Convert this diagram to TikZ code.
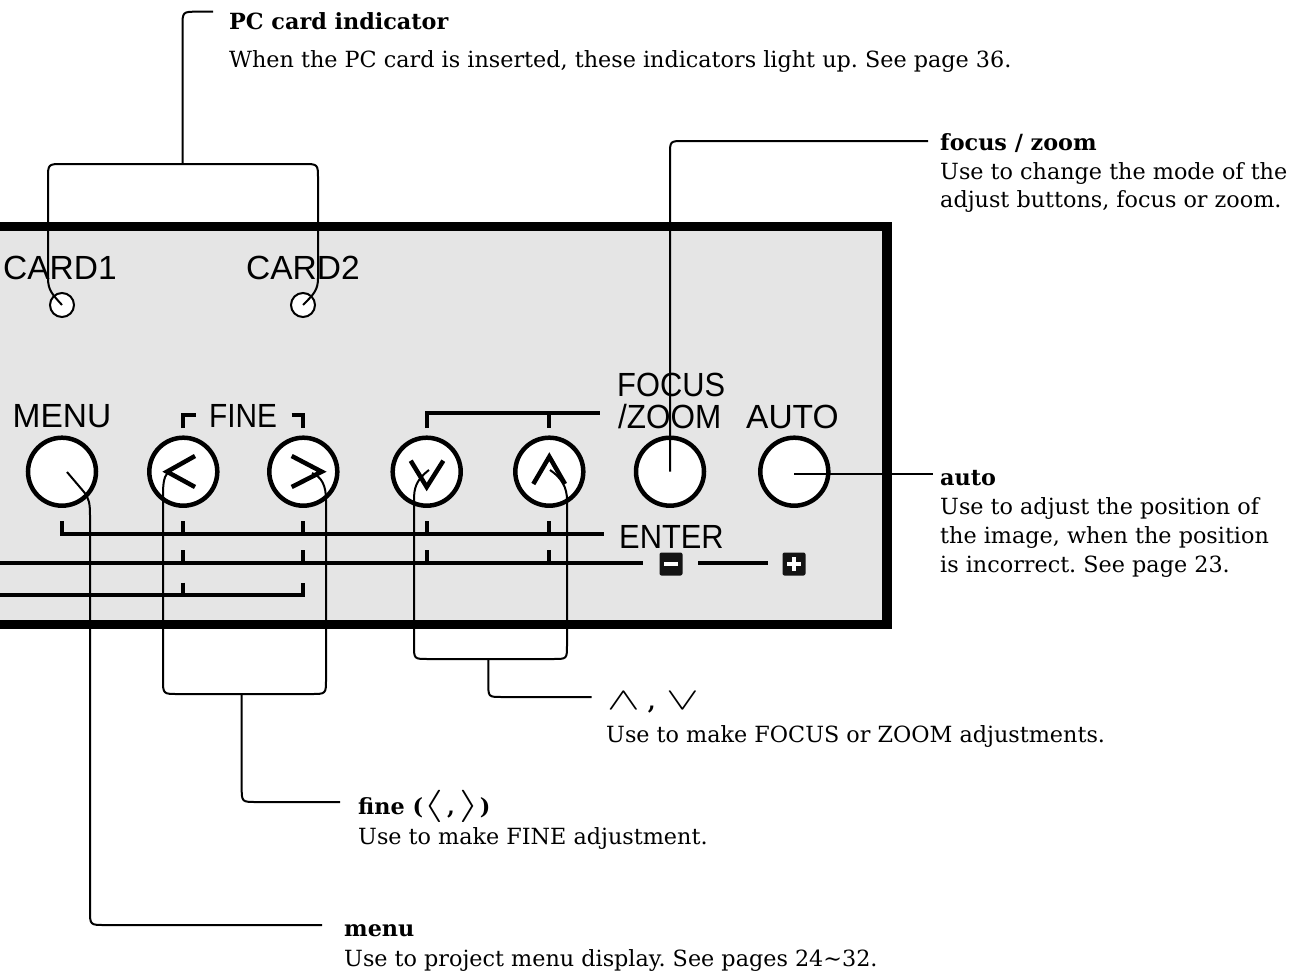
\RequirePackage{fix-cm}
\documentclass[tikz,border=0pt]{standalone}
\usepackage{fontspec}
\setmainfont{DejaVu Serif}
\newfontfamily\lblfont{Liberation Sans}
\definecolor{panelgray}{RGB}{229,229,229}
\definecolor{keydark}{RGB}{20,20,20}
\frenchspacing
\begin{document}
\begin{tikzpicture}[x=1pt,y=-1pt,
  panelbox/.style={fill=panelgray,draw=black,line width=9.5pt},
  pmark/.style={line width=4pt},
  chev/.style={line width=4.5pt},
  lead/.style={line width=2pt},
  btn/.style={circle,draw,line width=4.5pt,fill=white,minimum size=68pt,inner sep=0pt},
  ind/.style={circle,draw,line width=2pt,fill=white,minimum size=24pt,inner sep=0pt},
  keysq/.style={rectangle,fill=keydark,rounded corners=2pt,minimum size=23pt,inner sep=0pt},
  lab/.style={font=\lblfont\fontsize{33.5}{36}\selectfont,inner sep=0pt},
  txt/.style={font=\fontsize{22.3}{28}\selectfont,inner sep=0pt,anchor=base west},
  btxt/.style={font=\bfseries\fontsize{22.3}{28}\selectfont,inner sep=0pt,anchor=base west}]
\useasboundingbox (0,0) rectangle (1290,974);
\clip (0,0) rectangle (1290,974);

% panel
\draw[panelbox] (-30,226.5) rectangle (887,624.5);

% panel labels
\node[lab,anchor=base west] (lcard1) at (3,279) {CARD1};
\node[lab,anchor=base west] (lcard2) at (246,279) {CARD2};
\node[lab,anchor=base] (lmenu) at (62,427) {MENU};
\node[lab,anchor=base] (lfine) at (243,427) {\scalebox{0.89}[1]{FINE}};
\node[lab,anchor=base west] (lfocus) at (617,396) {\scalebox{0.92}[1]{FOCUS}};
\node[lab,anchor=base west] (lzoom) at (618,428) {\scalebox{0.94}[1]{/ZOOM}};
\node[lab,anchor=base west] (lauto) at (746,428) {AUTO};
\node[lab,anchor=base west] (lenter) at (619,548) {\scalebox{0.92}[1]{ENTER}};

% panel marks
\draw[pmark] (183,428) -- (183,414.5) -- (196,414.5);
\draw[pmark] (291.7,414.5) -- (303.3,414.5) -- (303.3,428);
\draw[pmark] (427,428) -- (427,413.3) -- (600,413.3);
\draw[pmark] (549.3,413.3) -- (549.3,428);

\draw[pmark] (62,521) -- (62,534) -- (604,534);
\foreach \xx in {183,303.3,427,549.3}{\draw[pmark] (\xx,521) -- (\xx,534);}
\draw[pmark] (-5,563.3) -- (643,563.3);
\foreach \xx in {183,303.3,427,549.3}{\draw[pmark] (\xx,550) -- (\xx,563.3);}
\draw[pmark] (698.3,563.3) -- (767.7,563.3);
\draw[pmark] (-5,595) -- (303.3,595) -- (303.3,582.5);
\draw[pmark] (183,582.5) -- (183,595);

\node[keysq] (kminus) at (671,564) {};
\fill[white] (664,562) rectangle (678,566);
\node[keysq] (kplus) at (794,564) {};
\fill[white] (787,562) rectangle (801,566);
\fill[white] (792,557) rectangle (796,571);

% indicators
\node[ind] (ind1) at (62,305) {};
\node[ind] (ind2) at (303,305) {};

% buttons
\node[btn] (bmenu) at (62,471.7) {};
\node[btn] (bleft) at (183.3,471.7) {};
\node[btn] (bright) at (303.3,471.7) {};
\node[btn] (bdown) at (426.7,471.7) {};
\node[btn] (bup) at (549.3,471.7) {};
\node[btn] (bfocus) at (670,471.7) {};
\node[btn] (bauto) at (794.3,471.7) {};

\draw[chev] (195,456) -- (167,471.7) -- (195,487);
\draw[chev] (291.7,456) -- (321.7,471.7) -- (291.7,487);
\draw[chev] (410.7,460.7) -- (426.7,487) -- (443.3,460.7);
\draw[chev] (533.3,484) -- (549.3,456.7) -- (565,484);

% texts
\node[btxt] (tpc) at (229,30) {PC card indicator};
\node[txt] (tpc1) at (229,67) {When the PC card is inserted, these indicators light up. See page 36.};
\node[btxt] (tfz) at (940,150) {focus / zoom};
\node[txt] (tfz1) at (940,179) {Use to change the mode of the};
\node[txt] (tfz2) at (940,207) {adjust buttons, focus or zoom.};
\node[btxt] (tau) at (940,485) {auto};
\node[txt] (tau1) at (940,514) {Use to adjust the position of};
\node[txt] (tau2) at (940,543) {the image, when the position};
\node[txt] (tau3) at (940,572) {is incorrect. See page 23.};
\node[txt] (tud) at (607,709) {\scalebox{2.2}[1.4]{$\wedge$}\hspace{8pt}\textbf{,}\hspace{11pt}\scalebox{2.2}[1.4]{$\vee$}};
\node[txt] (tud1) at (606,742) {Use to make FOCUS or ZOOM adjustments.};
\node[txt] (tfn) at (358,814) {\textbf{fine (}\scalebox{2.3}[1.45]{$\langle$}\hspace{4pt}\textbf{,}\hspace{5pt}\scalebox{2.3}[1.45]{$\rangle$}\textbf{)}};
\node[txt] (tfn1) at (358,844) {Use to make FINE adjustment.};
\node[btxt] (tmn) at (344,936) {menu};
\node[txt] (tmn1) at (344,966) {Use to project menu display. See pages 24\textasciitilde 32.};

% leader lines
\draw[lead] (ind1.center) .. controls (52,294) and (48,290) .. (48,278) -- (48,179)
  .. controls (48,164) .. (63,164) -- (303,164) .. controls (318,164) .. (318,179)
  -- (318,278) .. controls (318,290) and (314,294) .. (ind2.center);
\coordinate (cpc) at (213,11.7);
\draw[lead] (182.5,164) -- (182.5,27) .. controls (182.5,11.7) .. (197.5,11.7) -- (cpc);

\coordinate (cfz) at (928,141);
\draw[lead] (bfocus.center) -- (670,155) .. controls (670,141) .. (684,141) -- (cfz);

\coordinate (cau) at (933,474);
\draw[lead] (794.3,474) -- (cau);

\draw[lead] (168,472) .. controls (163,478) and (163,486) .. (163,500) -- (163,679)
  .. controls (163,694) .. (178,694) -- (311,694) .. controls (326,694) .. (326,679)
  -- (326,500) .. controls (326,486) and (322,477) .. (312,473);
\coordinate (cfn) at (340,802);
\draw[lead] (241.7,694) -- (241.7,787) .. controls (241.7,802) .. (256.7,802) -- (cfn);

\draw[lead] (429,470) .. controls (416,480) and (414,488) .. (414,500) -- (414,645)
  .. controls (414,659) .. (428,659) -- (553,659) .. controls (567,659) .. (567,645)
  -- (567,500) .. controls (567,488) and (562,478) .. (550,470);
\coordinate (cud) at (591.7,697);
\draw[lead] (488.3,659) -- (488.3,683) .. controls (488.3,697) .. (502,697) -- (cud);

\coordinate (cmn) at (322,925);
\draw[lead] (67,472) -- (84,492) .. controls (89,498) and (90,504) .. (90,515) -- (90,910)
  .. controls (90,925) .. (105,925) -- (cmn);
\end{tikzpicture}
\end{document}
